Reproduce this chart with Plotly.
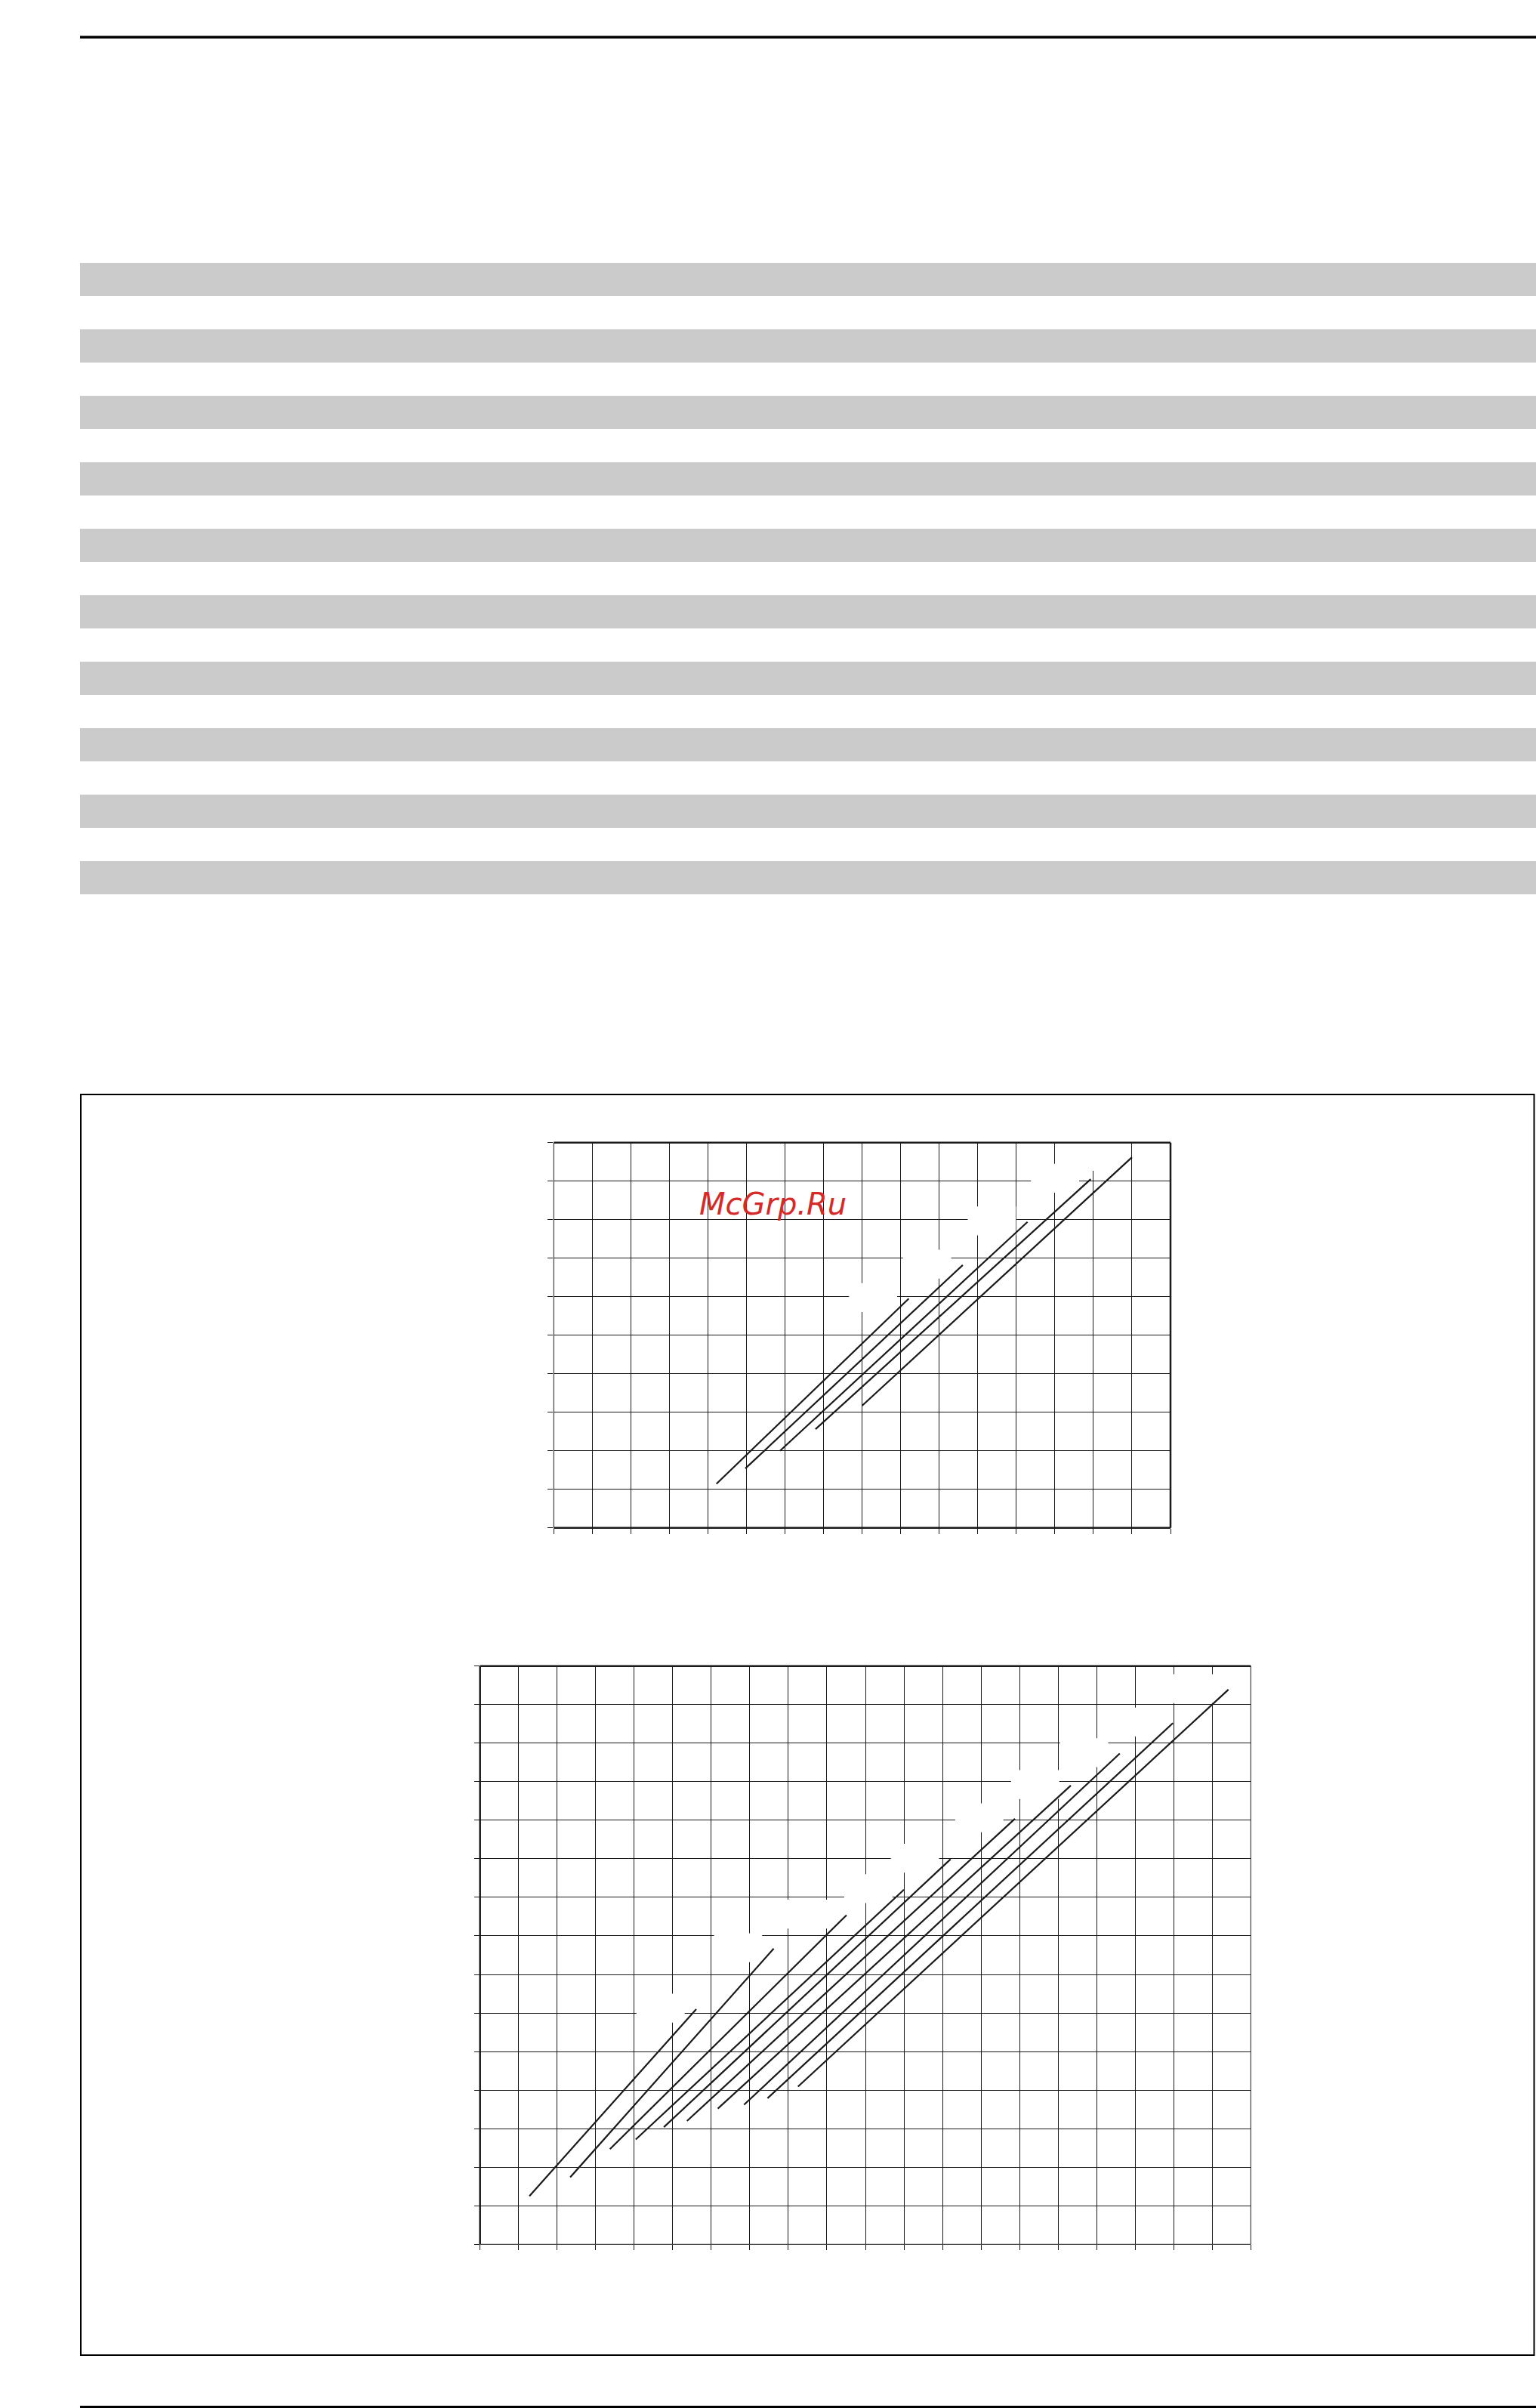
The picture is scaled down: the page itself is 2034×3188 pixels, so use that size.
import plotly.graph_objects as go

# ---------------- data (grid units) ----------------
# upper chart: 5 straight characteristic lines (start -> end)
top_x0 = [4.22, 4.97, 5.87, 6.79, 8.00]
top_y0 = [1.14, 1.54, 2.00, 2.56, 3.17]
top_x1 = [9.21, 10.61, 12.29, 13.93, 15.00]
top_y1 = [5.95, 6.82, 7.94, 9.05, 9.62]

# lower chart: 10 straight characteristic lines (start -> end)
bot_x0 = [1.28, 2.34, 3.37, 4.04, 4.77, 5.37, 6.17, 6.85, 7.46, 8.25]
bot_y0 = [1.25, 1.74, 2.47, 2.72, 3.04, 3.20, 3.52, 3.62, 3.79, 4.09]
bot_x1 = [5.61, 7.62, 9.51, 11.00, 12.21, 13.88, 15.33, 16.60, 17.98, 19.42]
bot_y1 = [6.10, 7.67, 8.54, 9.20, 9.99, 11.04, 11.90, 12.73, 13.52, 14.39]

top_xrange = [0, 16]
top_yrange = [0, 10]
bot_xrange = [0, 20]
bot_yrange = [0, 15]

watermark = "McGrp.Ru"

# ---------------- page geometry ----------------
W, H = 2034, 3188


def px(x):
    return x / W


def py(y):
    return 1 - y / H


INK = "#1a1a1a"

fig = go.Figure()

for i in range(len(top_x0)):
    fig.add_trace(go.Scatter(x=[top_x0[i], top_x1[i]], y=[top_y0[i], top_y1[i]],
                             mode="lines", line=dict(color=INK, width=2.2),
                             xaxis="x", yaxis="y", showlegend=False, hoverinfo="skip"))
for i in range(len(bot_x0)):
    fig.add_trace(go.Scatter(x=[bot_x0[i], bot_x1[i]], y=[bot_y0[i], bot_y1[i]],
                             mode="lines", line=dict(color=INK, width=2.2),
                             xaxis="x2", yaxis="y2", showlegend=False, hoverinfo="skip"))

axis_common = dict(showgrid=True, gridcolor=INK, gridwidth=1, dtick=1, tick0=0,
                   ticks="outside", ticklen=7, tickwidth=1, tickcolor=INK,
                   showticklabels=False, zeroline=False, showline=False,
                   fixedrange=True)

fig.update_layout(
    width=W, height=H,
    margin=dict(l=0, r=0, t=0, b=0),
    paper_bgcolor="white", plot_bgcolor="rgba(0,0,0,0)",
    xaxis=dict(domain=[px(733.3), px(1550)], range=top_xrange, anchor="y", **axis_common),
    yaxis=dict(domain=[py(2022.7), py(1512.7)], range=top_yrange, anchor="x", **axis_common),
    xaxis2=dict(domain=[px(635.7), px(1656.3)], range=bot_xrange, anchor="y2", **axis_common),
    yaxis2=dict(domain=[py(2971.3), py(2205.7)], range=bot_yrange, anchor="x2", **axis_common),
)

shapes = []
# top rule
shapes.append(dict(type="rect", xref="paper", yref="paper", x0=px(106), x1=1,
                   y0=py(51), y1=py(47.5), fillcolor="black", line=dict(width=0)))
# grey bands
for i in range(10):
    t = 348 + 88 * i
    shapes.append(dict(type="rect", xref="paper", yref="paper", x0=px(106), x1=1,
                       y0=py(t + 44), y1=py(t), fillcolor="#cbcbcb", line=dict(width=0),
                       layer="below"))
# framed box
shapes.append(dict(type="rect", xref="paper", yref="paper", x0=px(107), x1=px(2031.5),
                   y0=py(3118), y1=py(1449), fillcolor="rgba(0,0,0,0)",
                   line=dict(color="black", width=2)))
# bottom rule
shapes.append(dict(type="rect", xref="paper", yref="paper", x0=px(106), x1=1,
                   y0=0, y1=py(3185), fillcolor="black", line=dict(width=0)))


def border(xr, yr, side, width):
    d = dict(type="line", xref=xr + " domain", yref=yr + " domain",
             line=dict(color=INK, width=width))
    if side == "top":
        d.update(x0=0, x1=1, y0=1, y1=1)
    elif side == "bottom":
        d.update(x0=0, x1=1, y0=0, y1=0)
    elif side == "left":
        d.update(x0=0, x1=0, y0=0, y1=1)
    else:
        d.update(x0=1, x1=1, y0=0, y1=1)
    return d


# upper chart frame: thick top/right/bottom, thin left
shapes += [border("x", "y", "top", 2.5), border("x", "y", "right", 2.5),
           border("x", "y", "bottom", 2.5), border("x", "y", "left", 1)]
# lower chart frame: thick top/left, thin right/bottom
shapes += [border("x2", "y2", "top", 2.5), border("x2", "y2", "left", 2.5),
           border("x2", "y2", "bottom", 1), border("x2", "y2", "right", 1)]

# white label patches (blanked curve labels) next to each line's upper end
for xe, ye in zip(top_x1, top_y1):
    shapes.append(dict(type="rect", xref="x", yref="y", x0=xe - 1.55, x1=xe - 0.3,
                       y0=ye - 0.35, y1=ye + 0.4, fillcolor="white",
                       line=dict(width=0), layer="between"))
for xe, ye in zip(bot_x1, bot_y1):
    shapes.append(dict(type="rect", xref="x2", yref="y2", x0=xe - 1.55, x1=xe - 0.3,
                       y0=ye - 0.35, y1=ye + 0.4, fillcolor="white",
                       line=dict(width=0), layer="between"))

fig.update_layout(shapes=shapes)

fig.add_annotation(x=px(1023), y=py(1594), xref="paper", yref="paper",
                   text=watermark, showarrow=False,
                   font=dict(family="DejaVu Sans", size=40, color="#d62a2a", style="italic"))

fig.write_html("out.html",
               config={"displayModeBar": False, "staticPlot": True},
               post_script="document.body.style.margin='0';document.body.style.overflow='hidden';")
